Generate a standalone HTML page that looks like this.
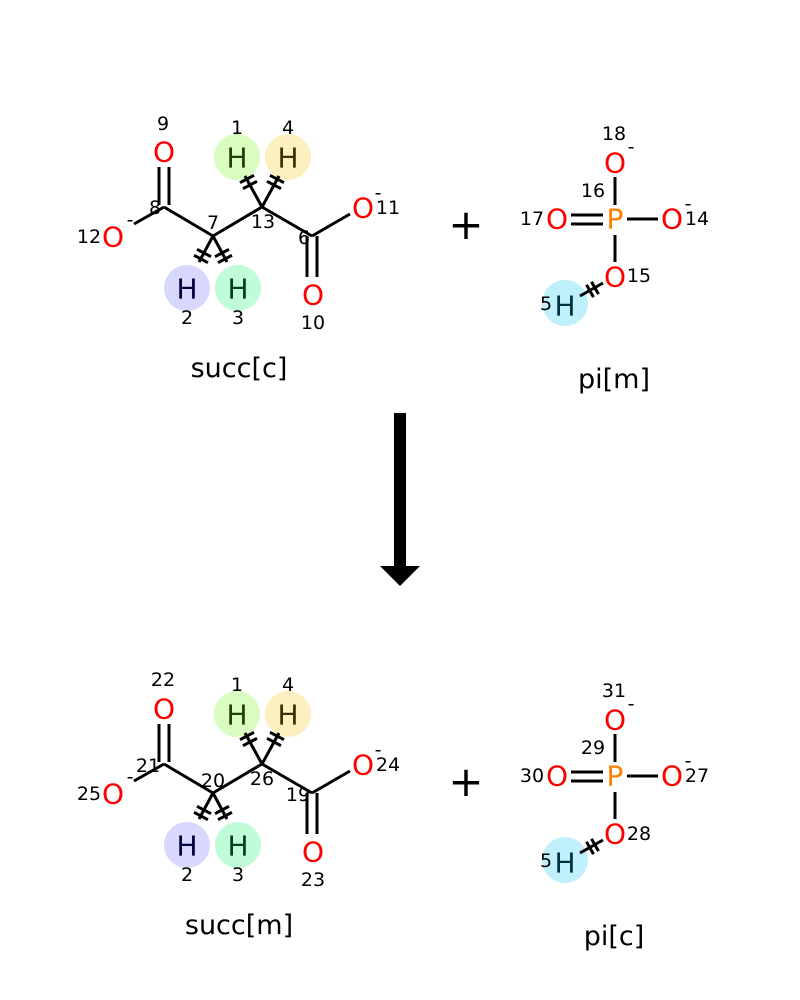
<!DOCTYPE html>
<html><head><meta charset="utf-8"><style>
html,body{margin:0;padding:0;background:#fff;width:800px;height:1000px;overflow:hidden}
svg{display:block}
text{font-family:"DejaVu Sans","Liberation Sans",sans-serif}
.o{fill:#ff0000;font-size:28px;text-anchor:middle;dominant-baseline:central}
.p{fill:#ff8000;font-size:28px;text-anchor:middle;dominant-baseline:central}
.h{font-size:28px;text-anchor:middle;dominant-baseline:central}
.n{fill:#000;font-size:19px;text-anchor:middle;dominant-baseline:central}
.b{stroke:#000;stroke-width:3;fill:none}
.m{stroke:#000;stroke-width:3}
.nm{font-size:27px;text-anchor:middle;fill:#000}
</style></head><body>
<svg width="800" height="1000" viewBox="0 0 800 1000" xmlns="http://www.w3.org/2000/svg">
<defs>
<g id="succ">
<circle cx="237" cy="157" r="23" fill="#d9fcc0"/>
<circle cx="288" cy="157" r="23" fill="#fdf0c0"/>
<circle cx="187" cy="288" r="23" fill="#d8d8fd"/>
<circle cx="238" cy="288" r="23" fill="#c0fcd8"/>
<line class="b" x1="159" y1="167" x2="159" y2="205"/>
<line class="b" x1="169" y1="167" x2="169" y2="205"/>
<line class="b" x1="164" y1="207" x2="134" y2="224"/>
<line class="b" x1="164" y1="207" x2="213" y2="236"/>
<line class="b" x1="213" y1="236" x2="262" y2="207"/>
<line class="b" x1="262" y1="207" x2="312" y2="236"/>
<line class="b" x1="312" y1="236" x2="350" y2="214"/>
<line class="b" x1="307" y1="236" x2="307" y2="277"/>
<line class="b" x1="317" y1="236" x2="317" y2="277"/>
<line class="b" x1="262" y1="207" x2="245" y2="176"/>
<line class="b" x1="262" y1="207" x2="279" y2="176"/>
<line class="b" x1="213" y1="236" x2="199" y2="262"/>
<line class="b" x1="213" y1="236" x2="227" y2="262"/>
<line class="m" x1="240" y1="182.7" x2="254" y2="175.3"/>
<line class="m" x1="243" y1="188.7" x2="257" y2="181.3"/>
<line class="m" x1="270" y1="175.3" x2="284" y2="182.7"/>
<line class="m" x1="267" y1="181.3" x2="281" y2="188.7"/>
<line class="m" x1="194" y1="255.3" x2="208" y2="262.7"/>
<line class="m" x1="197" y1="249.3" x2="211" y2="256.7"/>
<line class="m" x1="218" y1="262.7" x2="232" y2="255.3"/>
<line class="m" x1="215" y1="256.7" x2="229" y2="249.3"/>
<text class="o" x="164" y="152">O</text>
<text class="o" x="113" y="237">O</text>
<text class="o" x="363" y="208">O</text>
<text class="o" x="313" y="295">O</text>
<text class="h" x="237" y="158" fill="#1e4000">H</text>
<text class="h" x="288" y="158" fill="#403000">H</text>
<text class="h" x="187" y="289" fill="#000040">H</text>
<text class="h" x="238" y="289" fill="#00401e">H</text>
<text class="n" x="130" y="220">-</text>
<text class="n" x="378" y="193">-</text>
</g>
<g id="pi">
<circle cx="565" cy="303" r="23" fill="#c0f0fc"/>
<line class="b" x1="615" y1="177" x2="615" y2="205"/>
<line class="b" x1="571" y1="215" x2="603" y2="215"/>
<line class="b" x1="571" y1="224" x2="603" y2="224"/>
<line class="b" x1="627" y1="219" x2="658" y2="219"/>
<line class="b" x1="615" y1="235" x2="615" y2="262"/>
<line class="b" x1="603" y1="283" x2="580" y2="296"/>
<line class="m" x1="586.5" y1="284.8" x2="593.5" y2="297.2"/>
<line class="m" x1="591.5" y1="281.8" x2="598.5" y2="294.2"/>
<text class="p" x="615" y="219">P</text>
<text class="o" x="615" y="163">O</text>
<text class="o" x="557" y="219">O</text>
<text class="o" x="672" y="219">O</text>
<text class="o" x="615" y="277">O</text>
<text class="h" x="565" y="306" fill="#003040">H</text>
<text class="n" x="546" y="304">5</text>
<text class="n" x="631" y="147">-</text>
<text class="n" x="688" y="204">-</text>
</g>
</defs>

<use href="#succ"/>
<use href="#pi"/>
<text class="n" x="163" y="124">9</text>
<text class="n" x="237" y="128">1</text>
<text class="n" x="288" y="128">4</text>
<text class="n" x="155" y="208">8</text>
<text class="n" x="213" y="223">7</text>
<text class="n" x="263" y="222">13</text>
<text class="n" x="304" y="238">6</text>
<text class="n" x="388" y="208">11</text>
<text class="n" x="89" y="237">12</text>
<text class="n" x="187" y="318">2</text>
<text class="n" x="238" y="318">3</text>
<text class="n" x="313" y="323">10</text>
<text class="n" x="614" y="134">18</text>
<text class="n" x="593" y="191">16</text>
<text class="n" x="532" y="219">17</text>
<text class="n" x="697" y="219">14</text>
<text class="n" x="639" y="276">15</text>
<text class="nm" x="239" y="377">succ[c]</text>
<text class="nm" x="614" y="388">pi[m]</text>
<text x="466" y="239" font-size="42" text-anchor="middle" fill="#000">+</text>

<rect x="394" y="413" width="12" height="155" fill="#000"/>
<polygon points="380,566 420,566 400,586" fill="#000"/>

<g transform="translate(0,557)">
<use href="#succ"/>
<use href="#pi"/>
<text class="n" x="163" y="123">22</text>
<text class="n" x="237" y="128">1</text>
<text class="n" x="288" y="128">4</text>
<text class="n" x="148" y="209">21</text>
<text class="n" x="213" y="224">20</text>
<text class="n" x="262" y="222">26</text>
<text class="n" x="298" y="238">19</text>
<text class="n" x="388" y="208">24</text>
<text class="n" x="89" y="237">25</text>
<text class="n" x="187" y="318">2</text>
<text class="n" x="238" y="318">3</text>
<text class="n" x="313" y="323">23</text>
<text class="n" x="614" y="134">31</text>
<text class="n" x="593" y="191">29</text>
<text class="n" x="532" y="219">30</text>
<text class="n" x="697" y="219">27</text>
<text class="n" x="639" y="277">28</text>
<text class="nm" x="239" y="377">succ[m]</text>
<text class="nm" x="614" y="388">pi[c]</text>
<text x="466" y="239" font-size="42" text-anchor="middle" fill="#000">+</text>
</g>
</svg>
</body></html>
